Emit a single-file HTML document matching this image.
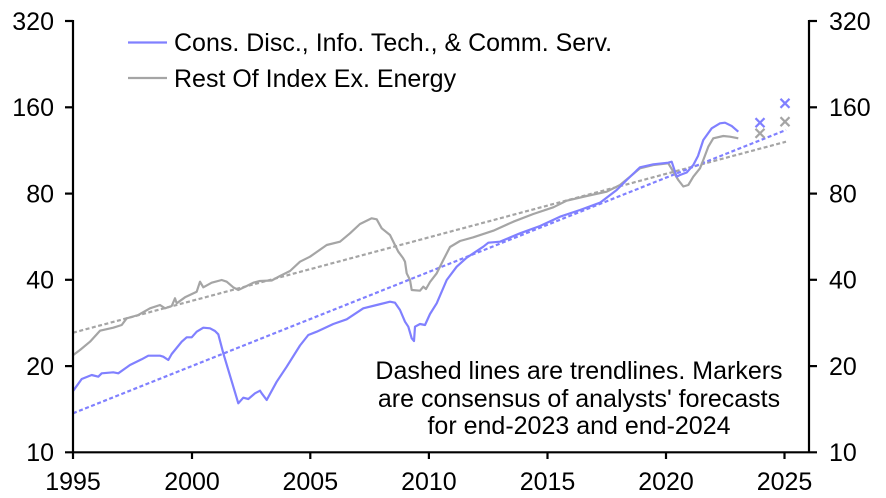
<!DOCTYPE html>
<html>
<head>
<meta charset="utf-8">
<style>
  html,body{margin:0;padding:0;background:#fff;}
  svg{display:block;}
  text{font-family:"Liberation Sans",Arial,sans-serif;font-size:25px;fill:#000;}
</style>
</head>
<body>
<svg width="886" height="498" viewBox="0 0 886 498" xmlns="http://www.w3.org/2000/svg">
  <!-- Trendlines -->
  <line x1="73" y1="332.7" x2="786" y2="141.7" stroke="#a5a5a5" stroke-width="2.2" stroke-dasharray="4,2.5"/>
  <line x1="73" y1="413.3" x2="786" y2="130" stroke="#8080ff" stroke-width="2.2" stroke-dasharray="4,2.5"/>

  <!-- Gray series -->
  <polyline fill="none" stroke="#a5a5a5" stroke-width="2.2" stroke-linejoin="round" points="
73.3,355 80,350 90,341.7 100,330.7 113.3,327.7 121.7,325 126.7,318.3 138.3,315 150,308.3 160,305 165,308.3 171.7,306 175,298.3 176.7,303.3 185,297.3 196.7,291.7 200,281.7 203.3,287.3 211.7,282.7 221.7,280 226.7,281.7 233.3,287.3 238.3,290 246.7,286 253.3,282.7 260,281 271.7,280.5 280,276 290,271 300,261.7 310,256.7 326.7,245 340,241.7 350,233.3 360,224 371.7,218.3 376.7,219.3 381.7,228.3 390,235 398.3,251.7 403,258 405,261.7 406.7,273.3 410,280 411.7,290 420,290.7 423.3,286.7 426,289 430,282 436.7,273.3 443.3,260 450,247 460,241 473.3,237.3 493.3,230.7 513.3,221.7 533.3,214 553.3,207.3 566.7,200.7 586.7,196 606.7,191.7 620,185 630,176.7 640,168.3 653.3,165 668.3,163.3 673.3,171.7 678.3,180 683.3,186.5 688.3,185 693.3,176.7 700,168.3 703.3,160 708.3,146.7 713.3,138.3 723.3,136 730,136.7 738.3,138.3"/>

  <!-- Blue series -->
  <polyline fill="none" stroke="#8080ff" stroke-width="2.2" stroke-linejoin="round" points="
73.3,390.7 81.7,379 91.7,375 98.3,376.7 101.7,373.3 113.3,372.3 118.3,373.3 130,365 141.7,359.3 148.3,355.7 160,355.7 163.3,356.7 168.3,360 171.7,354 181.7,341.7 186.7,337.3 191.7,337.3 196.7,331.7 203.3,327.7 210,328.3 215,331 218.3,334.3 223.3,353.3 238.3,403.3 243.3,397.7 248.3,399 255,393.3 260,390.7 261.7,393.3 266.7,400 276.7,381.7 286.7,366.7 300,345.5 308.3,335 316.7,331.7 333.3,324 346.7,319.3 363.3,308.3 376.7,305 390,301.7 395,302.7 400,310 405,321.7 408.3,326.7 411.7,338.3 414,341 415,326.7 420,324 425,325 430,314 436.7,303.3 446.7,280 456.7,266.7 466.7,257.7 483.3,246.7 488.3,242.7 500,241.7 520,233.3 540,226 560,216.7 580,210 600,202.7 616.7,190 626.7,180 640,167.3 653.3,164.3 668.3,162.7 671.7,161.7 676.7,176.7 680,175 686.7,172.5 693.3,165 698,156 703.3,140 711.7,128.3 720,123.3 725,122.7 731.7,126 738.3,131.7"/>

  <!-- Forecast markers -->
  <g stroke="#a5a5a5" stroke-width="2.2">
    <line x1="755.5" y1="128.8" x2="764.5" y2="137.8"/><line x1="755.5" y1="137.8" x2="764.5" y2="128.8"/>
    <line x1="780.5" y1="117.2" x2="789.5" y2="126.2"/><line x1="780.5" y1="126.2" x2="789.5" y2="117.2"/>
  </g>
  <g stroke="#8080ff" stroke-width="2.2">
    <line x1="755.5" y1="118.2" x2="764.5" y2="127.2"/><line x1="755.5" y1="127.2" x2="764.5" y2="118.2"/>
    <line x1="780.5" y1="98.8" x2="789.5" y2="107.8"/><line x1="780.5" y1="107.8" x2="789.5" y2="98.8"/>
  </g>

  <!-- Axes -->
  <g stroke="#000" stroke-width="2.2">
    <line x1="73" y1="20" x2="73" y2="453"/>
    <line x1="809" y1="20" x2="809" y2="453"/>
    <line x1="65" y1="452.3" x2="817" y2="452.3"/>
    <line x1="65" y1="21" x2="73" y2="21"/>
    <line x1="65" y1="107.3" x2="73" y2="107.3"/>
    <line x1="65" y1="193.6" x2="73" y2="193.6"/>
    <line x1="65" y1="279.8" x2="73" y2="279.8"/>
    <line x1="65" y1="366.1" x2="73" y2="366.1"/>
    <line x1="809" y1="21" x2="817" y2="21"/>
    <line x1="809" y1="107.3" x2="817" y2="107.3"/>
    <line x1="809" y1="193.6" x2="817" y2="193.6"/>
    <line x1="809" y1="279.8" x2="817" y2="279.8"/>
    <line x1="809" y1="366.1" x2="817" y2="366.1"/>
    <line x1="73" y1="452" x2="73" y2="459"/>
    <line x1="192" y1="452" x2="192" y2="459"/>
    <line x1="310.3" y1="452" x2="310.3" y2="459"/>
    <line x1="428.9" y1="452" x2="428.9" y2="459"/>
    <line x1="547.5" y1="452" x2="547.5" y2="459"/>
    <line x1="666" y1="452" x2="666" y2="459"/>
    <line x1="784.5" y1="452" x2="784.5" y2="459"/>
  </g>

  <!-- Left labels -->
  <g text-anchor="end">
    <text x="54" y="29.8">320</text>
    <text x="54" y="116.1">160</text>
    <text x="54" y="202.4">80</text>
    <text x="54" y="288.6">40</text>
    <text x="54" y="374.9">20</text>
    <text x="54" y="461.1">10</text>
  </g>
  <!-- Right labels -->
  <g text-anchor="start">
    <text x="829" y="29.8">320</text>
    <text x="829" y="116.1">160</text>
    <text x="829" y="202.4">80</text>
    <text x="829" y="288.6">40</text>
    <text x="829" y="374.9">20</text>
    <text x="829" y="461.1">10</text>
  </g>
  <!-- Bottom labels -->
  <g text-anchor="middle">
    <text x="73" y="490">1995</text>
    <text x="192" y="490">2000</text>
    <text x="310.3" y="490">2005</text>
    <text x="428.9" y="490">2010</text>
    <text x="547.5" y="490">2015</text>
    <text x="666" y="490">2020</text>
    <text x="784.5" y="490">2025</text>
  </g>

  <!-- Legend -->
  <line x1="128" y1="42.5" x2="167" y2="42.5" stroke="#8080ff" stroke-width="2.2"/>
  <text x="174" y="51">Cons. Disc., Info. Tech., &amp; Comm. Serv.</text>
  <line x1="128" y1="78" x2="167" y2="78" stroke="#a5a5a5" stroke-width="2.2"/>
  <text x="174" y="87">Rest Of Index Ex. Energy</text>

  <!-- Annotation -->
  <g text-anchor="middle">
    <text x="579" y="379">Dashed lines are trendlines. Markers</text>
    <text x="579" y="407">are consensus of analysts' forecasts</text>
    <text x="579" y="434">for end-2023 and end-2024</text>
  </g>
</svg>
</body>
</html>
